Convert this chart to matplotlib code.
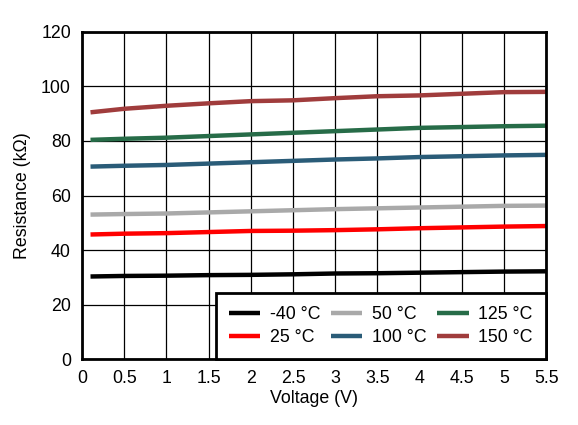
import matplotlib
matplotlib.use("Agg")
import matplotlib.pyplot as plt

plt.rcParams["font.family"] = ["Liberation Sans", "DejaVu Sans"]

# Spannung (V)
voltage = [0.1, 0.5, 1.0, 1.5, 2.0, 2.5, 3.0, 3.5, 4.0, 4.5, 5.0, 5.5]

# Widerstand (kOhm) je Temperatur
r_m40 = [30.3, 30.5, 30.6, 30.8, 30.9, 31.1, 31.4, 31.5, 31.7, 31.9, 32.1, 32.2]
r_25 = [45.7, 46.0, 46.2, 46.6, 47.0, 47.1, 47.3, 47.6, 48.0, 48.3, 48.6, 48.8]
r_50 = [53.0, 53.2, 53.4, 53.8, 54.2, 54.6, 55.0, 55.3, 55.6, 55.9, 56.2, 56.3]
r_100 = [70.6, 70.9, 71.2, 71.7, 72.2, 72.7, 73.2, 73.6, 74.1, 74.4, 74.7, 74.9]
r_125 = [80.4, 80.8, 81.2, 81.8, 82.4, 83.0, 83.6, 84.2, 84.8, 85.1, 85.4, 85.6]
r_150 = [90.5, 91.8, 92.9, 93.8, 94.6, 94.9, 95.7, 96.4, 96.7, 97.3, 97.9, 98.0]

labels = ["-40 °C", "25 °C", "50 °C", "100 °C", "125 °C", "150 °C"]
colors = ["#000000", "#ff0000", "#a9a9a9", "#2a5c78", "#276c48", "#a03c3c"]
series = [r_m40, r_25, r_50, r_100, r_125, r_150]

fs = 12.8

fig, ax = plt.subplots(figsize=(5.78, 4.25), dpi=100)
fig.subplots_adjust(left=0.142, right=0.945, top=0.925, bottom=0.155)

for vals, lab, col in zip(series, labels, colors):
    ax.plot(voltage, vals, color=col, linewidth=3.2, label=lab, solid_capstyle="butt")

ax.set_xlim(0, 5.5)
ax.set_ylim(0, 120)
ax.set_xticks([0, 0.5, 1, 1.5, 2, 2.5, 3, 3.5, 4, 4.5, 5, 5.5])
ax.set_xticklabels(["0", "0.5", "1", "1.5", "2", "2.5", "3", "3.5", "4", "4.5", "5", "5.5"])
ax.set_yticks(range(0, 121, 20))
ax.grid(True, color="black", linewidth=0.9)
ax.tick_params(length=0, labelsize=fs, pad=8)
for sp in ax.spines.values():
    sp.set_linewidth(2)

ax.set_xlabel("Voltage (V)", fontsize=fs, labelpad=2)
ax.set_ylabel("Resistance (kΩ)", fontsize=fs, labelpad=7)

leg = ax.legend(ncol=3, loc="lower right", borderaxespad=0, fontsize=fs,
                fancybox=False, framealpha=1, edgecolor="black",
                handlelength=1.75, columnspacing=0.6, handletextpad=0.55,
                borderpad=0.75, labelspacing=0.3)
leg.get_frame().set_linewidth(2)

fig.savefig("out.png")
